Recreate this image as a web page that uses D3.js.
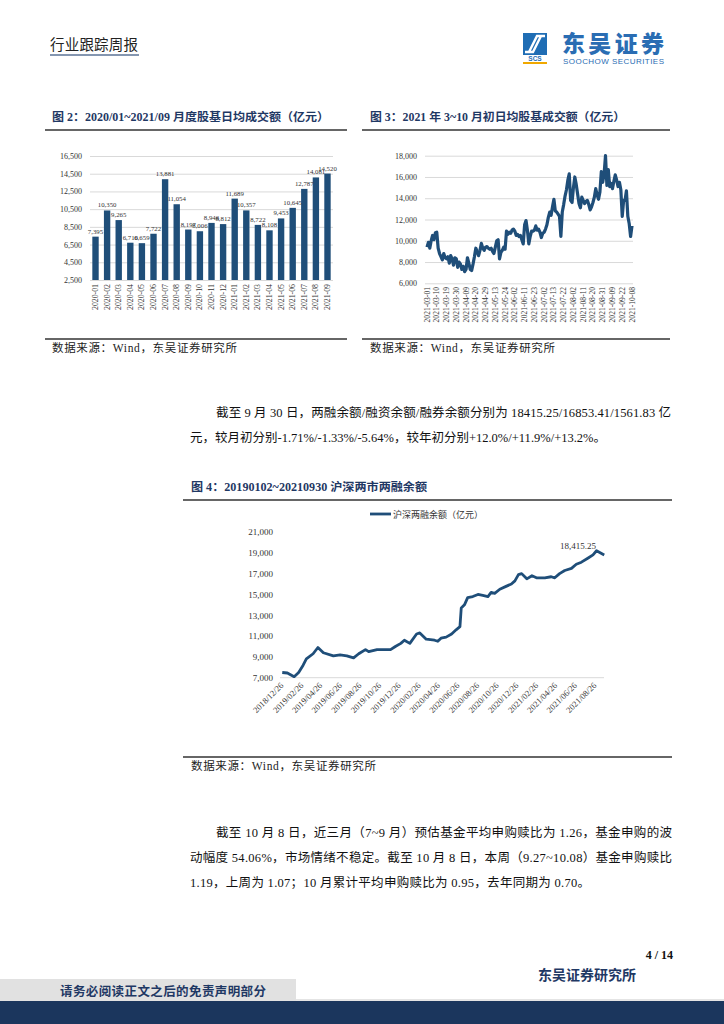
<!DOCTYPE html>
<html>
<head>
<meta charset="utf-8">
<script src="https://cdn.jsdelivr.net/npm/d3@7"></script>
<style>
body { margin: 0; background: #fff; }
svg { display: block; }
</style>
</head>
<body>
<script>
// ---- data ----
const months = ['2020-01','2020-02','2020-03','2020-04','2020-05','2020-06','2020-07','2020-08','2020-09','2020-10','2020-11','2020-12',
                '2021-01','2021-02','2021-03','2021-04','2021-05','2021-06','2021-07','2021-08','2021-09'];
const monthlyTurnover = [7395,10350,9265,6710,6659,7722,13881,11054,8197,8006,8946,8812,11689,10357,8722,8108,9453,10645,12787,14081,14520];
const monthlyTicks = [2500,4500,6500,8500,10500,12500,14500,16500];

const dayLabels = ['2021-03-01','2021-03-10','2021-03-19','2021-03-30','2021-04-09','2021-04-20','2021-04-29','2021-05-13','2021-05-24',
                   '2021-06-02','2021-06-11','2021-06-23','2021-07-02','2021-07-13','2021-07-22','2021-08-02','2021-08-11','2021-08-20',
                   '2021-08-31','2021-09-09','2021-09-22','2021-10-08'];
const dailyTurnover = [
  9400,9850,9300,10000,10500,10100,10750,10800,9300,8800,8500,8200,8800,8400,8300,8500,7900,8600,8300,7700,
  8400,8300,7500,8000,7800,7300,7600,7100,7300,8400,7900,7300,7200,7800,8500,9300,9000,8600,9100,9750,
  9300,9100,9400,9450,9300,9200,9300,9000,8800,9400,10000,10100,8300,8900,9100,9400,9200,10900,10600,10800,
  10700,11000,11100,10900,10500,10600,10400,10500,10100,9700,11500,11900,11000,9700,10400,10900,10900,11000,11400,11000,
  11100,10800,10300,10700,10800,11100,11500,12200,12700,12400,13200,13900,12800,12700,12500,12300,10400,12700,13400,14200,
  14800,15700,16300,13800,13600,15000,16000,15300,14400,13500,13100,14100,13800,13500,13700,13800,13400,12900,13200,13600,
  14100,14900,14300,13900,14600,16500,15500,16300,18000,15200,16700,15100,15400,14900,15600,16200,15700,15100,15500,14800,
  12300,13800,13800,14700,12300,11600,10400,11400];
const dailyTicks = [6000,8000,10000,12000,14000,16000,18000];

const marginDates = ['2019-01-02','2019-01-18','2019-02-08','2019-02-22','2019-03-08','2019-03-18','2019-04-08','2019-04-23','2019-05-10',
  '2019-06-10','2019-07-01','2019-07-22','2019-08-12','2019-08-28','2019-09-18','2019-09-28','2019-10-24','2019-12-05','2019-12-20',
  '2020-01-06','2020-01-17','2020-02-03','2020-02-24','2020-03-05','2020-03-25','2020-04-20','2020-04-30','2020-05-10','2020-05-26',
  '2020-06-12','2020-06-26','2020-07-08','2020-07-12','2020-07-22','2020-08-01','2020-08-17','2020-09-02','2020-09-17','2020-10-03',
  '2020-10-13','2020-10-24','2020-11-09','2020-11-30','2020-12-15','2020-12-26','2021-01-06','2021-01-16','2021-02-01','2021-02-17',
  '2021-03-03','2021-03-29','2021-04-18','2021-04-29','2021-05-14','2021-05-30','2021-06-20','2021-07-05','2021-07-21','2021-08-11',
  '2021-08-26','2021-09-06','2021-09-30'];
const marginBalance = [7500,7450,7100,7500,8200,8800,9300,9900,9400,
  9100,9200,9100,8900,9300,9700,9500,9700,9700,10000,
  10300,10600,10300,11200,11300,10700,10600,10500,10800,10900,
  11200,11600,11900,13700,14000,14700,14800,15000,14900,14800,
  15200,15100,15500,15800,16000,16300,16900,17000,16500,16800,
  16600,16600,16700,16600,17000,17300,17500,17900,18100,18500,
  18800,19200,18800];
const marginTicks = [7000,9000,11000,13000,15000,17000,19000,21000];
const marginLabels = ['2018/12/26','2019/02/26','2019/04/26','2019/06/26','2019/08/26','2019/10/26','2019/12/26','2020/02/26',
  '2020/04/26','2020/06/26','2020/08/26','2020/10/26','2020/12/26','2021/02/26','2021/04/26','2021/06/26','2021/08/26'];

// ---- styles ----
const serif = "'Liberation Serif','Times New Roman','Noto Sans CJK SC',serif";
const cjk = "'Noto Sans CJK SC',sans-serif";
const navy = '#1f3864', blue = '#1f4e79', grid = '#d9d9d9', ink = '#333';
const fmt = d3.format(',');

const svg = d3.select('body').append('svg').attr('width', 724).attr('height', 1024);

// ---- header ----
svg.append('text').attr('x', 50).attr('y', 50).attr('font-family', cjk).attr('font-size', 14.5)
  .attr('fill', '#222').attr('textLength', 88).text('行业跟踪周报');
svg.append('line').attr('x1', 50).attr('x2', 139).attr('y1', 55).attr('y2', 55)
  .attr('stroke', '#8496b0').attr('stroke-width', 2);

const logo = svg.append('g');
logo.append('rect').attr('x', 523).attr('y', 33).attr('width', 24).attr('height', 22).attr('fill', '#1f6db4');
logo.append('path').attr('d', 'M529,52 L537,36 L545,36 M525,52 L533,52 L541,36')
  .attr('stroke', '#fff').attr('stroke-width', 2.4).attr('fill', 'none');
logo.append('text').attr('x', 535).attr('y', 61).attr('text-anchor', 'middle').attr('font-family', 'Liberation Sans')
  .attr('font-weight', 700).attr('font-size', 6.5).attr('fill', '#1f6db4').text('SCS');
logo.append('rect').attr('x', 523).attr('y', 62).attr('width', 24).attr('height', 2).attr('fill', '#f0a800');
logo.append('text').attr('x', 562).attr('y', 52).attr('font-family', cjk).attr('font-weight', 900)
  .attr('font-size', 23).attr('fill', '#2a6db3').attr('textLength', 102).text('东吴证券');
logo.append('text').attr('x', 563).attr('y', 64).attr('font-family', "'Liberation Sans Narrow','Liberation Sans'")
  .attr('font-size', 8).attr('fill', '#2a6db3').attr('textLength', 101).text('SOOCHOW SECURITIES');

// ---- figure frame helpers ----
function figTitle(x, y, len, txt, x1, x2) {
  svg.append('text').attr('x', x).attr('y', y).attr('font-family', serif).attr('font-weight', 700)
    .attr('font-size', 11.5).attr('fill', navy).attr('textLength', len).attr('lengthAdjust', 'spacingAndGlyphs').text(txt);
  svg.append('line').attr('x1', x1).attr('x2', x2).attr('y1', y + 9).attr('y2', y + 9)
    .attr('stroke', '#333').attr('stroke-width', 1.6);
}
function figSource(x, y, x1, x2) {
  svg.append('line').attr('x1', x1).attr('x2', x2).attr('y1', y - 13).attr('y2', y - 13)
    .attr('stroke', '#333').attr('stroke-width', 1.6);
  svg.append('text').attr('x', x).attr('y', y).attr('font-family', serif).attr('font-size', 11.5)
    .attr('fill', '#222').attr('textLength', 185).text('数据来源：Wind，东吴证券研究所');
}

// ---- 图2 ----
figTitle(52, 121, 277, '图 2：2020/01~2021/09 月度股基日均成交额（亿元）', 45, 347);
{
  const g = svg.append('g');
  const x = d3.scaleBand().domain(months).range([90, 333]).paddingInner(0.45).paddingOuter(0.2);
  const y = d3.scaleLinear().domain([2500, 16500]).range([280, 156]);
  g.append('g').attr('transform', 'translate(90,0)')
    .call(d3.axisLeft(y).tickValues(monthlyTicks).tickSize(-243).tickFormat(fmt))
    .call(a => a.select('.domain').remove())
    .call(a => a.selectAll('line').attr('stroke', grid))
    .call(a => a.selectAll('text').attr('x', -8).attr('font-family', serif).attr('font-size', 8).attr('fill', ink));
  g.selectAll('rect.bar').data(monthlyTurnover).join('rect').attr('class', 'bar')
    .attr('x', (d, i) => x(months[i])).attr('width', x.bandwidth())
    .attr('y', d => y(d)).attr('height', d => y(2500) - y(d)).attr('fill', blue);
  g.selectAll('text.val').data(monthlyTurnover).join('text').attr('class', 'val')
    .attr('x', (d, i) => x(months[i]) + x.bandwidth() / 2).attr('y', d => y(d) - 3)
    .attr('text-anchor', 'middle').attr('font-family', serif).attr('font-size', 6.8).attr('fill', ink).text(fmt);
  g.selectAll('text.cat').data(months).join('text').attr('class', 'cat')
    .attr('transform', d => `translate(${x(d) + x.bandwidth() / 2 + 2.5},284) rotate(-90)`)
    .attr('text-anchor', 'end').attr('font-family', serif).attr('font-size', 7.8).attr('fill', ink).text(d => d);
}
figSource(52, 352, 45, 347);

// ---- 图3 ----
figTitle(370, 121, 255, '图 3：2021 年 3~10 月初日均股基成交额（亿元）', 362, 670);
{
  const g = svg.append('g');
  const x = d3.scaleLinear().domain([0, dailyTurnover.length - 1]).range([427, 632]);
  const y = d3.scaleLinear().domain([6000, 18000]).range([283.3, 155.7]);
  g.append('g').attr('transform', 'translate(425,0)')
    .call(d3.axisLeft(y).tickValues(dailyTicks).tickSize(-208).tickFormat(fmt))
    .call(a => a.select('.domain').remove())
    .call(a => a.selectAll('line').attr('stroke', grid))
    .call(a => a.selectAll('text').attr('x', -8).attr('font-family', serif).attr('font-size', 8).attr('fill', ink));
  g.append('path').datum(dailyTurnover)
    .attr('d', d3.line().x((d, i) => x(i)).y(d => y(d)))
    .attr('fill', 'none').attr('stroke', blue).attr('stroke-width', 3.2).attr('stroke-linejoin', 'round');
  g.selectAll('text.cat').data(dayLabels).join('text').attr('class', 'cat')
    .attr('transform', (d, i) => `translate(${x(i * 7) + 2.5},287) rotate(-90)`)
    .attr('text-anchor', 'end').attr('font-family', serif).attr('font-size', 7.6).attr('fill', ink).text(d => d);
}
figSource(370, 352, 362, 670);

// ---- body text 1 ----
function bodyLine(x, y, len, txt) {
  svg.append('text').attr('x', x).attr('y', y).attr('font-family', serif).attr('font-size', 12.5)
    .attr('fill', '#111').attr('textLength', len).attr('lengthAdjust', 'spacing').text(txt);
}
bodyLine(216, 417, 455, '截至 9 月 30 日，两融余额/融资余额/融券余额分别为 18415.25/16853.41/1561.83 亿');
bodyLine(190, 442, 416, '元，较月初分别-1.71%/-1.33%/-5.64%，较年初分别+12.0%/+11.9%/+13.2%。');

// ---- 图4 ----
figTitle(191, 491, 236, '图 4：20190102~20210930 沪深两市两融余额', 183, 672);
{
  const g = svg.append('g');
  const parse = d3.timeParse('%Y-%m-%d');
  const parseLbl = d3.timeParse('%Y/%m/%d');
  const x = d3.scaleTime().domain([parseLbl('2018/12/26'), parseLbl('2021/08/26')]).range([280, 593]);
  const y = d3.scaleLinear().domain([7000, 21000]).range([677.7, 532]);
  g.append('g').attr('transform', 'translate(280,0)')
    .call(d3.axisLeft(y).tickValues(marginTicks).tickSize(0).tickFormat(fmt))
    .call(a => a.select('.domain').remove())
    .call(a => a.selectAll('text').attr('x', -7).attr('font-family', serif).attr('font-size', 9).attr('fill', ink));
  g.append('line').attr('x1', 280).attr('x2', 604).attr('y1', y(7000)).attr('y2', y(7000)).attr('stroke', grid);
  g.append('path').datum(marginBalance)
    .attr('d', d3.line().x((d, i) => x(parse(marginDates[i]))).y(d => y(d)))
    .attr('fill', 'none').attr('stroke', blue).attr('stroke-width', 2.8).attr('stroke-linejoin', 'round');
  g.selectAll('text.cat').data(marginLabels).join('text').attr('class', 'cat')
    .attr('transform', d => `translate(${x(parseLbl(d)) + 4},686) rotate(-45)`)
    .attr('text-anchor', 'end').attr('font-family', serif).attr('font-size', 8.5).attr('fill', ink).text(d => d);
  // legend
  g.append('line').attr('x1', 370).attr('x2', 391).attr('y1', 514).attr('y2', 514).attr('stroke', blue).attr('stroke-width', 2.8);
  g.append('text').attr('x', 393).attr('y', 517.5).attr('font-family', cjk).attr('font-size', 9)
    .attr('fill', ink).text('沪深两融余额（亿元）');
  // end label
  g.append('text').attr('x', 596).attr('y', 549).attr('text-anchor', 'end').attr('font-family', serif)
    .attr('font-size', 9).attr('fill', ink).text('18,415.25');
}
figSource(191, 770, 183, 672);

// ---- body text 2 ----
bodyLine(216, 837, 456, '截至 10 月 8 日，近三月（7~9 月）预估基金平均申购赎比为 1.26，基金申购的波');
bodyLine(190, 862, 482, '动幅度 54.06%，市场情绪不稳定。截至 10 月 8 日，本周（9.27~10.08）基金申购赎比');
bodyLine(190, 887, 400, '1.19，上周为 1.07；10 月累计平均申购赎比为 0.95，去年同期为 0.70。');

// ---- footer ----
svg.append('text').attr('x', 673).attr('y', 959).attr('text-anchor', 'end').attr('font-family', serif)
  .attr('font-weight', 700).attr('font-size', 12).attr('fill', '#111').text('4 / 14');
svg.append('text').attr('x', 538).attr('y', 980).attr('font-family', cjk).attr('font-weight', 700)
  .attr('font-size', 14).attr('fill', '#1f3864').attr('textLength', 98).text('东吴证券研究所');
svg.append('rect').attr('x', 0).attr('y', 979).attr('width', 296).attr('height', 24).attr('fill', '#e1e1e1');
svg.append('line').attr('x1', 296).attr('x2', 724).attr('y1', 1000).attr('y2', 1000).attr('stroke', '#c9c9c9');
svg.append('rect').attr('x', 0).attr('y', 1001).attr('width', 724).attr('height', 23).attr('fill', '#1b365d');
svg.append('text').attr('x', 60).attr('y', 996).attr('font-family', cjk).attr('font-weight', 700)
  .attr('font-size', 12.5).attr('fill', '#1f3864').attr('textLength', 206).text('请务必阅读正文之后的免责声明部分');
</script>
</body>
</html>
